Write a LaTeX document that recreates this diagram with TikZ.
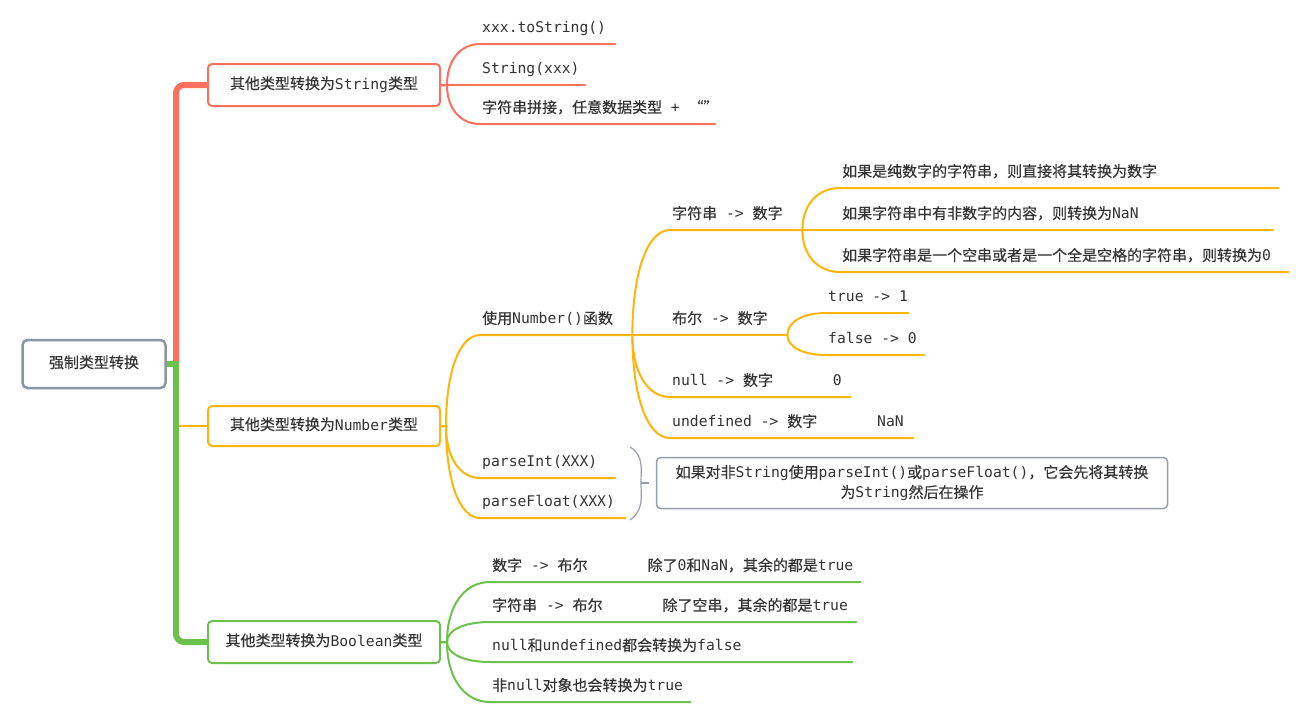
\documentclass[tikz,border=0pt]{standalone}
\usepackage{fontspec}
\setmainfont{DejaVu Sans Mono}
\newfontfamily\cjk[Scale=1.02, FakeBold=0.3]{Noto Sans CJK SC}
\usetikzlibrary{calc}
% Chinese characters go to the CJK font
\XeTeXinterchartokenstate=1
\newXeTeXintercharclass\cjkclass
\count255="4E00
\loop\ifnum\count255<"A000
  \XeTeXcharclass\count255=\cjkclass
  \advance\count255 by 1
\repeat
\XeTeXcharclass"FF0C=\cjkclass
\XeTeXcharclass"201C=\cjkclass
\XeTeXcharclass"201D=\cjkclass
\XeTeXinterchartoks 0 \cjkclass={\cjk}
\XeTeXinterchartoks 4095 \cjkclass={\cjk}
\XeTeXinterchartoks \cjkclass 0={\normalfont}
\XeTeXinterchartoks \cjkclass 4095={\normalfont}
\definecolor{redc}{RGB}{250,113,94}
\definecolor{orgc}{RGB}{255,181,10}
\definecolor{grnc}{RGB}{108,193,76}
\definecolor{rootc}{RGB}{138,150,168}
\definecolor{notec}{RGB}{150,158,172}
\definecolor{txt}{RGB}{51,51,51}
\newcommand\ws{\hspace*{8.85pt}}
\newcommand\gapsp{\hspace*{60pt}}
\newcommand\quotes{\makebox[14.8pt][r]{“}\makebox[14.8pt][l]{”}}
\begin{document}
\begin{tikzpicture}[x=1pt,y=-1pt,
  font={\fontsize{14.7pt}{20pt}\selectfont}, text=txt,
  topic/.style={draw, fill=white, rounded corners=4pt, line width=2pt, minimum width=232pt, minimum height=42pt, text height=11pt, text depth=3pt},
  leaf/.style={anchor=south west, inner xsep=2pt, inner ysep=0pt, text width=#1, text height=11pt, text depth=11pt, execute at begin node=\hbox\bgroup, execute at end node=\egroup},
  link/.style={line width=2pt, line cap=round},
  fan/.style={to path={.. controls ($(\tikztostart)!0.6!(\tikztostart |- \tikztotarget)$) and ($(\tikztotarget)!0.6!(\tikztostart |- \tikztotarget)$) .. (\tikztotarget)}},
  spine/.style={line width=6pt}]
\useasboundingbox[fill=white] (0,0) rectangle (1296,716);

% main topics
\node[draw=rootc, fill=white, line width=2.5pt, rounded corners=5pt, minimum width=143pt, minimum height=48pt, text height=11pt, text depth=3pt] (root) at (94,364) {强制类型转换};
\node[topic, draw=redc] (str) at (324,85) {其他类型转换为String类型};
\node[topic, draw=orgc, minimum height=40pt] (num) at (324,426) {其他类型转换为Number类型};
\node[topic, draw=grnc] (bool) at (324,642) {其他类型转换为Boolean类型};

% String
\node[leaf=131pt] (s1) at (480,44) {xxx.toString()};
\node[leaf=101pt] (s2) at (480,85) {String(xxx)};
\node[leaf=231pt] (s3) at (480,124) {字符串拼接，任意数据类型\ws+\ws\quotes};

% Number
\node[leaf=148pt] (n1) at (480,335) {使用Number()函数};
\node[leaf=131pt] (n2) at (480,478) {parseInt(XXX)};
\node[leaf=141pt] (n3) at (480,518) {parseFloat(XXX)};
\node[leaf=128pt] (f1) at (670,230) {字符串\ws->\ws{}数字};
\node[leaf=113pt] (f2) at (670,335) {布尔\ws->\ws{}数字};
\node[leaf=176pt] (f3) at (670,397) {null\ws->\ws{}数字\gapsp 0};
\node[leaf=239pt] (f4) at (670,438) {undefined\ws->\ws{}数字\gapsp NaN};
\node[leaf=434pt] (g1) at (840,188) {如果是纯数字的字符串，则直接将其转换为数字};
\node[leaf=429pt] (g2) at (840,230) {如果字符串中有非数字的内容，则转换为NaN};
\node[leaf=444pt] (g3) at (840,272) {如果字符串是一个空串或者是一个全是空格的字符串，则转换为0};
\node[leaf=78pt] (h1) at (826,313) {true\ws->\ws1};
\node[leaf=94pt] (h2) at (826,355) {false\ws->\ws0};
\node[draw=notec, line width=1.5pt, rounded corners=4pt, minimum width=511pt, minimum height=51pt, align=center] (note) at (912,483) {如果对非String使用parseInt()或parseFloat()，它会先将其转换\\为String然后在操作};

% Boolean
\node[leaf=366pt] (b1) at (490,582) {数字\ws->\ws{}布尔\gapsp 除了0和NaN，其余的都是true};
\node[leaf=362pt] (b2) at (490,622) {字符串\ws->\ws{}布尔\gapsp 除了空串，其余的都是true};
\node[leaf=358pt] (b3) at (490,662) {null和undefined都会转换为false};
\node[leaf=196pt] (b4) at (490,702) {非null对象也会转换为true};

% spine
\coordinate (hub) at (176,364);
\draw[link, orgc] (hub |- num.west) -- (num.west);
\draw[spine, redc, rounded corners=8pt] (hub) |- (str.west);
\draw[spine, grnc, rounded corners=8pt] (hub) |- (bool.west);
\draw[spine, grnc] (root.east) -- ([xshift=3pt]hub);

% branches
\coordinate (strF) at ([xshift=6pt]str.east);
\foreach \c in {s1,s3}
  \draw[link, redc] (str.east) -- (strF) to[fan] (\c.south west) -- (\c.south east);
\draw[link, redc] (str.east) -- (s2.south west) -- (s2.south east);

\coordinate (numF) at ([xshift=5pt]num.east);
\foreach \c in {n1,n2,n3}
  \draw[link, orgc] (num.east) -- (numF) to[fan] (\c.south west) -- (\c.south east);
\foreach \c in {f1,f3,f4}
  \draw[link, orgc] (n1.south east) to[fan] (\c.south west) -- (\c.south east);
\draw[link, orgc] (n1.south east) -- (f2.south west) -- (f2.south east);
\foreach \c in {g1,g3}
  \draw[link, orgc] (f1.south east) to[fan] (\c.south west) -- (\c.south east);
\draw[link, orgc] (f1.south east) -- (g2.south west) -- (g2.south east);
\foreach \c in {h1,h2}
  \draw[link, orgc] (f2.south east) to[fan] (\c.south west) -- (\c.south east);

\coordinate (boolF) at ([xshift=6pt]bool.east);
\foreach \c in {b1,b2,b3,b4}
  \draw[link, grnc] (bool.east) -- (boolF) to[fan] (\c.south west) -- (\c.south east);

% brace in front of the note
\coordinate (bt) at (630,447);
\coordinate (bm) at (641,483);
\coordinate (bb) at (630,520);
\draw[notec, line width=1.2pt] (bt) .. controls (644,455) and (641,470) .. (bm) .. controls (641,496) and (644,511) .. (bb);
\draw[notec, line width=1.2pt] (bm) -- ++(8,0);
\end{tikzpicture}
\end{document}
